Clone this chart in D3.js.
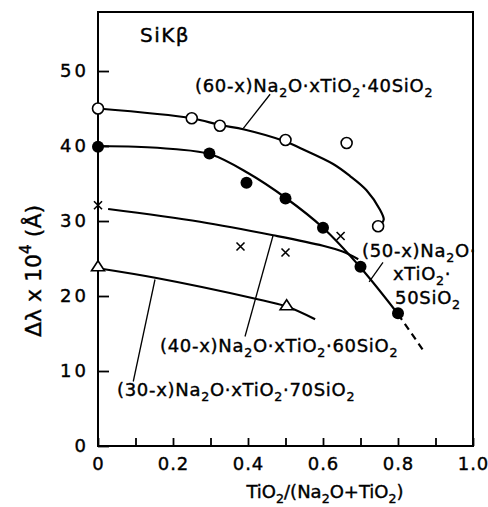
<!DOCTYPE html>
<html><head><meta charset="utf-8">
<script src="https://cdn.jsdelivr.net/npm/d3@7"></script>
<style>body{margin:0;background:#fff} svg{display:block}</style>
</head><body><svg id="c" width="488" height="507"></svg>
<script>
// ---- tick values / labels ----
const xTickValues = [0, 0.1, 0.2, 0.3, 0.4, 0.5, 0.6, 0.7, 0.8, 0.9, 1.0];
const xTickLabels = ["0", "", "0.2", "", "0.4", "", "0.6", "", "0.8", "", "1.0"];
const yTickValues = [0, 10, 20, 30, 40, 50];
const yTickLabels = ["0", "10", "20", "30", "40", "50"];

// ---- measured points ----
// (60-x)Na2O·xTiO2·40SiO2  (open circles)
const ratio40Si = [0, 0.25, 0.325, 0.5, 0.663, 0.747];
const dl40Si    = [45.0, 43.7, 42.7, 40.8, 40.4, 29.3];
// (50-x)Na2O·xTiO2·50SiO2  (filled circles)
const ratio50Si = [0, 0.297, 0.396, 0.5, 0.6, 0.7, 0.8];
const dl50Si    = [39.9, 39.0, 35.1, 33.0, 29.1, 23.9, 17.7];
// (40-x)Na2O·xTiO2·60SiO2  (crosses)
const ratio60Si = [0, 0.38, 0.5, 0.647];
const dl60Si    = [32.1, 26.6, 25.8, 28.0];
// (30-x)Na2O·xTiO2·70SiO2  (triangles)
const ratio70Si = [0, 0.503];
const dl70Si    = [23.9, 18.7];

// ---- hand-drawn fitted curves ----
const fit40SiX = [0, 0.25, 0.325, 0.39, 0.5, 0.54, 0.627, 0.672, 0.716, 0.752, 0.762, 0.755];
const fit40SiY = [45.0, 43.7, 42.8, 42.2, 40.6, 39.7, 37.6, 36.0, 34.1, 31.5, 30.2, 29.6];
const fit50SiX = [0, 0.1, 0.2, 0.3, 0.4, 0.5, 0.6, 0.7, 0.8];
const fit50SiY = [40.0, 39.9, 39.6, 38.9, 36.4, 33.1, 29.1, 23.8, 17.6];
const ext50SiX = [0.8, 0.868];
const ext50SiY = [17.6, 12.7];
const fit60SiX = [0.027, 0.272, 0.467, 0.6, 0.654, 0.694];
const fit60SiY = [31.6, 29.9, 28.1, 26.7, 25.9, 24.9];
const fit70SiX = [0, 0.156, 0.414, 0.503, 0.579];
const fit70SiY = [23.7, 22.4, 19.7, 18.6, 16.9];

// ---- text ----
const titleText = "SiKβ";
const label40Si = [["(60-x)Na",0],["2",1],["O·xTiO",0],["2",1],["·40SiO",0],["2",1]];
const label50Si = [[["(50-x)Na",0],["2",1],["O·",0]], [["xTiO",0],["2",1],["·",0]], [["50SiO",0],["2",1]]];
const label60Si = [["(40-x)Na",0],["2",1],["O·xTiO",0],["2",1],["·60SiO",0],["2",1]];
const label70Si = [["(30-x)Na",0],["2",1],["O·xTiO",0],["2",1],["·70SiO",0],["2",1]];
const xTitle = [["TiO",0],["2",1],["/(Na",0],["2",1],["O+TiO",0],["2",1],[")",0]];
const yTitle = [["Δλ x 10",0],["4",2],[" (Å)",0]];

// ---- drawing ----
const svg = d3.select("#c");
const FONT = "'DejaVu Sans', sans-serif";
const x = d3.scaleLinear().domain([0, 1]).range([98, 473]);
const y = d3.scaleLinear().domain([0, 57.87]).range([446, 12]);

// frame
svg.append("rect").attr("x", x(0)).attr("y", y(57.87))
  .attr("width", x(1) - x(0)).attr("height", y(0) - y(57.87))
  .attr("fill", "none").attr("stroke", "#000").attr("stroke-width", 2);

// axes
const xAxis = svg.append("g").attr("transform", `translate(0,${y(0)})`)
  .call(d3.axisBottom(x).tickValues(xTickValues).tickSize(-8).tickPadding(11)
    .tickFormat((d, i) => xTickLabels[i]));
const yAxis = svg.append("g").attr("transform", `translate(${x(0)},0)`)
  .call(d3.axisLeft(y).tickValues(yTickValues).tickSize(-11).tickPadding(9)
    .tickFormat((d, i) => yTickLabels[i]));
[xAxis, yAxis].forEach(g => {
  g.select(".domain").remove();
  g.selectAll("line").attr("stroke", "#000").attr("stroke-width", 1.8);
  g.selectAll("text").attr("font-family", FONT).attr("font-size", 18).attr("fill", "#000")
    .attr("stroke", "#000").attr("stroke-width", 0.4);
});
yAxis.selectAll("text").attr("letter-spacing", 3);
xAxis.selectAll("text").attr("letter-spacing", 1);

function rich(sel, parts, size, subSize) {
  let shift = 0;
  parts.forEach(([s, k]) => {
    const target = k === 1 ? size * 0.27 : k === 2 ? -size * 0.45 : 0;
    const t = sel.append("tspan").text(s).attr("dy", target - shift);
    if (k) t.attr("font-size", subSize);
    shift = target;
  });
}

// curves
const line = d3.line().x(d => x(d[0])).y(d => y(d[1])).curve(d3.curveCatmullRom.alpha(0.5));
function drawFit(xs, ys, dash) {
  svg.append("path").datum(xs.map((v, i) => [v, ys[i]]))
    .attr("d", line).attr("fill", "none").attr("stroke", "#000")
    .attr("stroke-width", 2.2).attr("stroke-dasharray", dash || null);
}
drawFit(fit40SiX, fit40SiY);
drawFit(fit50SiX, fit50SiY);
drawFit(ext50SiX, ext50SiY, "7,5");
drawFit(fit60SiX, fit60SiY);
drawFit(fit70SiX, fit70SiY);

// leader lines (data coords)
const leaders = [
  [[0.3875, 42.36], [0.459, 46.9]],
  [[0.723, 21.9], [0.76, 24.5]],
  [[0.467, 28.1], [0.392, 14.6]],
  [[0.152, 22.2], [0.094, 8.6]]
];
leaders.forEach(([a, b]) => svg.append("line")
  .attr("x1", x(a[0])).attr("y1", y(a[1])).attr("x2", x(b[0])).attr("y2", y(b[1]))
  .attr("stroke", "#000").attr("stroke-width", 1.3));

// markers
const pts = (xs, ys) => xs.map((v, i) => [v, ys[i]]);
svg.append("g").selectAll("circle").data(pts(ratio40Si, dl40Si)).join("circle")
  .attr("cx", d => x(d[0])).attr("cy", d => y(d[1])).attr("r", 5.5)
  .attr("fill", "#fff").attr("stroke", "#000").attr("stroke-width", 1.6);
svg.append("g").selectAll("circle").data(pts(ratio50Si, dl50Si)).join("circle")
  .attr("cx", d => x(d[0])).attr("cy", d => y(d[1])).attr("r", 6)
  .attr("fill", "#000");
svg.append("g").selectAll("path").data(pts(ratio60Si, dl60Si)).join("path")
  .attr("d", d => { const cx = x(d[0]), cy = y(d[1]), s = 4;
    return `M${cx-s},${cy-s}L${cx+s},${cy+s}M${cx-s},${cy+s}L${cx+s},${cy-s}`; })
  .attr("stroke", "#000").attr("stroke-width", 1.6).attr("fill", "none");
svg.append("g").selectAll("path").data(pts(ratio70Si, dl70Si)).join("path")
  .attr("d", d => { const cx = x(d[0]), cy = y(d[1]);
    return `M${cx},${cy-6}L${cx+6.5},${cy+4}L${cx-6.5},${cy+4}Z`; })
  .attr("stroke", "#000").attr("stroke-width", 1.6).attr("fill", "#fff");

// texts
function label(px, py, parts, size, ls) {
  const t = svg.append("text").attr("x", px).attr("y", py)
    .attr("font-family", FONT).attr("font-size", size).attr("letter-spacing", ls || 0)
    .attr("stroke", "#000").attr("stroke-width", 0.4);
  rich(t, parts, size, size * 0.7);
  return t;
}
svg.append("text").attr("x", 140).attr("y", 42).attr("font-family", FONT)
  .attr("font-size", 20).attr("letter-spacing", 1.5)
  .attr("stroke", "#000").attr("stroke-width", 0.4).text(titleText);
label(195, 92, label40Si, 18, 0.7);
label50Si.forEach((ln, i) => label([362, 393, 395][i], [257, 280, 304][i], ln, 18, 0.7));
label(160, 352, label60Si, 18, 0.7);
label(117, 396, label70Si, 18, 0.7);
label(325, 498, xTitle, 18, 0).attr("text-anchor", "middle");
label(0, 0, yTitle, 22, 0).attr("text-anchor", "middle")
  .attr("transform", "translate(41,271) rotate(-90)");
</script></body></html>
